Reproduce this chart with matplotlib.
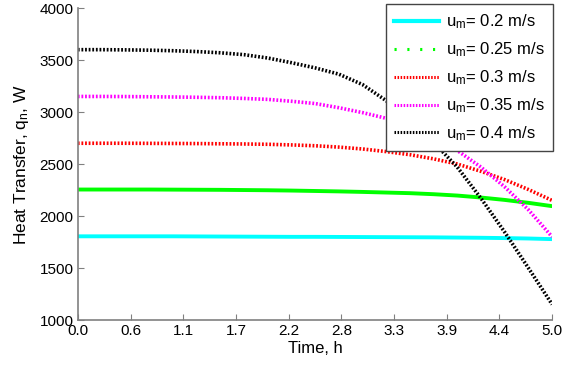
import numpy as np
import matplotlib
matplotlib.use('Agg')
import matplotlib.pyplot as plt
from matplotlib.lines import Line2D

plt.rcParams['font.family'] = ['Liberation Sans', 'DejaVu Sans']
plt.rcParams['mathtext.default'] = 'regular'

# values, every 0.25 h
time_h = [0.0, 0.25, 0.5, 0.75, 1.0, 1.25, 1.5, 1.75, 2.0, 2.25, 2.5,
          2.75, 3.0, 3.25, 3.5, 3.75, 4.0, 4.25, 4.5, 4.75, 5.0]
q_02 = [1805, 1805, 1805, 1805, 1805, 1804, 1803, 1802, 1801, 1800, 1800,
        1799, 1798, 1797, 1796, 1795, 1793, 1791, 1788, 1784, 1778]
q_025 = [2255, 2255, 2255, 2255, 2254, 2253, 2252, 2250, 2248, 2245, 2241,
         2237, 2232, 2226, 2220, 2210, 2197, 2178, 2155, 2127, 2095]
q_03 = [2700, 2700, 2700, 2699, 2698, 2697, 2695, 2693, 2690, 2684, 2676,
        2663, 2645, 2620, 2590, 2550, 2500, 2430, 2350, 2255, 2150]
q_035 = [3150, 3150, 3149, 3147, 3145, 3142, 3138, 3131, 3122, 3104, 3082,
         3042, 2995, 2940, 2860, 2760, 2630, 2470, 2280, 2060, 1800]
q_04 = [3600, 3600, 3598, 3595, 3590, 3582, 3570, 3552, 3520, 3475, 3425,
        3365, 3265, 3110, 2920, 2710, 2470, 2170, 1845, 1500, 1150]

labels = ['u$_m$= 0.2 m/s', 'u$_m$= 0.25 m/s', 'u$_m$= 0.3 m/s',
          'u$_m$= 0.35 m/s', 'u$_m$= 0.4 m/s']
xtick_labels = ['0.0', '0.6', '1.1', '1.7', '2.2', '2.8', '3.3', '3.9', '4.4', '5.0']

fig = plt.figure(figsize=(5.64, 3.67), dpi=100)
ax = fig.add_axes([0.138, 0.128, 0.841, 0.85])

dots = (0, (0.5, 0.5))
ax.plot(time_h, q_02, color='#00ffff', lw=2.8, solid_capstyle='butt')
ax.plot(time_h, q_025, color='#00ff00', lw=2.8, solid_capstyle='butt')
ax.plot(time_h, q_03, color='#ff0000', lw=2.6, ls=dots)
ax.plot(time_h, q_035, color='#ff00ff', lw=2.6, ls=dots)
ax.plot(time_h, q_04, color='#000000', lw=2.6, ls=dots)

ax.set_xlim(0, 5)
ax.set_ylim(1000, 4000)
ax.set_xticks(np.linspace(0, 5, len(xtick_labels)))
ax.set_xticklabels(xtick_labels)
ax.set_yticks(np.arange(1000, 4001, 500))

for s in ['top', 'right']:
    ax.spines[s].set_visible(False)
for s in ['left', 'bottom']:
    ax.spines[s].set_color('#808080')
    ax.spines[s].set_linewidth(1.2)
ax.tick_params(direction='in', color='#808080', length=4, labelsize=11, pad=3)

ax.set_xlabel('Time, h', fontsize=12, labelpad=2)
ax.set_ylabel('Heat Transfer, q$_n$, W', fontsize=12.5, labelpad=6)

handles = [
    Line2D([], [], color='#00ffff', lw=3.0),
    Line2D([], [], color='#00ff00', lw=2.2, ls=(0, (0.7, 3.5))),
    Line2D([], [], color='#ff0000', lw=2.2, ls=(0, (0.5, 0.5))),
    Line2D([], [], color='#ff00ff', lw=2.2, ls=(0, (0.5, 0.5))),
    Line2D([], [], color='#000000', lw=2.2, ls=(0, (0.5, 0.5))),
]
leg = fig.legend(handles, labels, loc='upper right', bbox_to_anchor=(0.981, 0.988),
                 bbox_transform=fig.transFigure, fontsize=12, handlelength=2.7,
                 handletextpad=0.4, labelspacing=0.55, borderpad=0.5,
                 fancybox=False, framealpha=1, edgecolor='#444444', borderaxespad=0)
leg.get_frame().set_linewidth(1.0)

fig.savefig('out.png', dpi=100)
